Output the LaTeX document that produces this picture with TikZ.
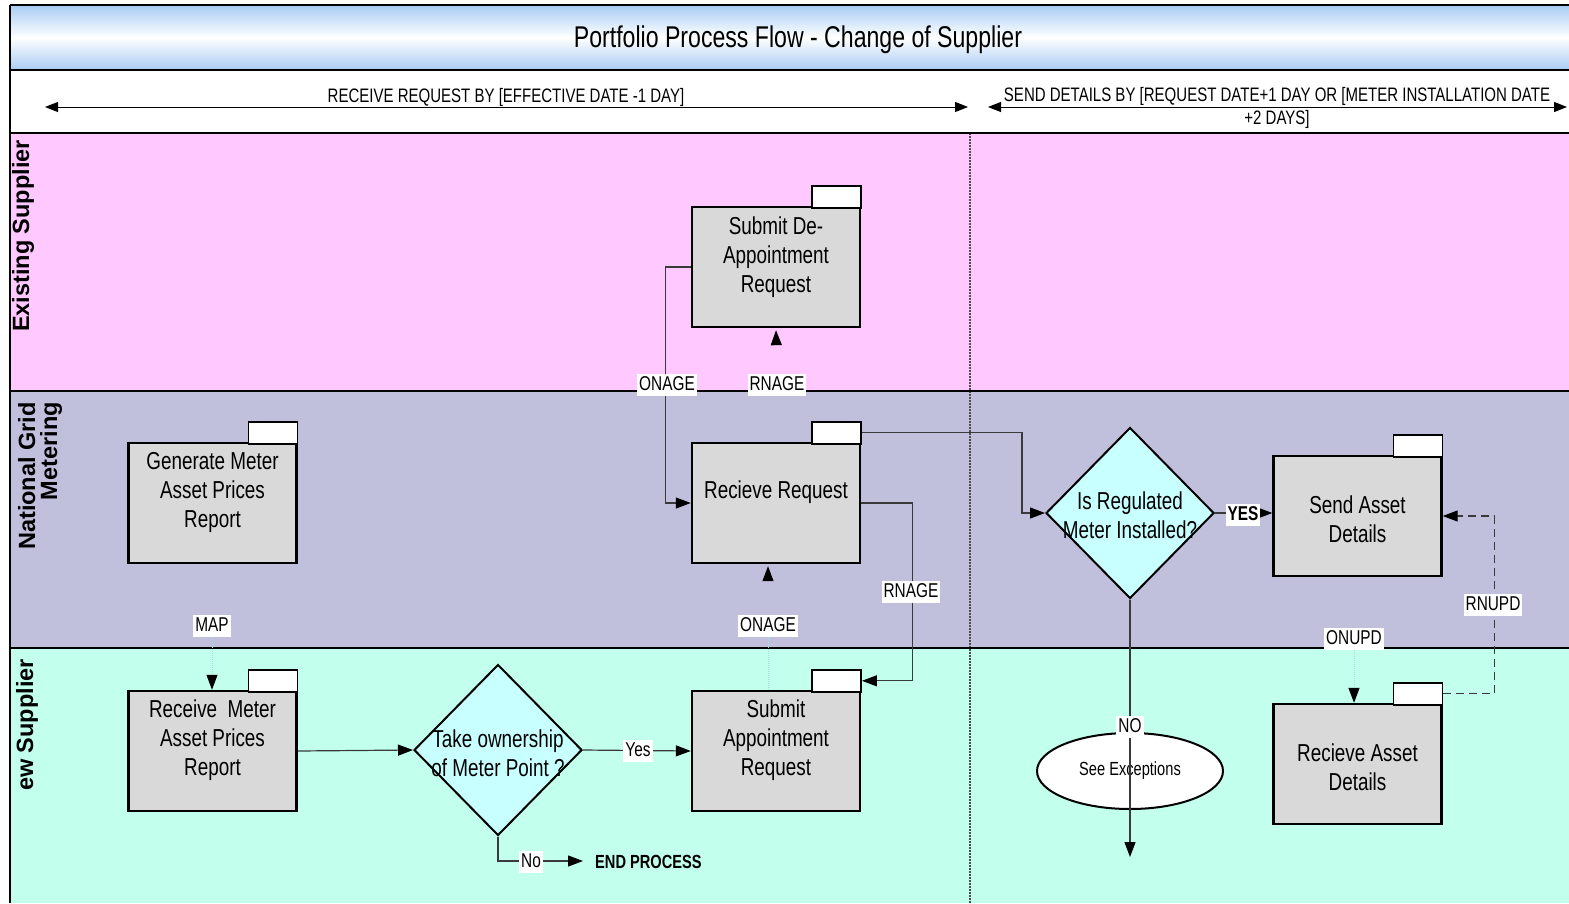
\documentclass[tikz,border=0pt]{standalone}
\usepackage{fontspec}
\setmainfont{Liberation Sans}
\newfontfamily\cond[FakeStretch=0.77]{Liberation Sans}
\usetikzlibrary{arrows.meta,shapes.geometric}
\pgfdeclarelayer{top}
\pgfsetlayers{main,top}
\definecolor{pinklane}{HTML}{FFC8FF}
\definecolor{greylane}{HTML}{C0C0DC}
\definecolor{aqualane}{HTML}{C2FFEC}
\definecolor{boxgrey}{HTML}{D9D9D9}
\definecolor{diacyan}{HTML}{C8FFFF}
\definecolor{titleblue}{HTML}{A8CCF4}
\definecolor{linegrey}{HTML}{3A3A3A}
\definecolor{faintline}{HTML}{9CE4DA}
\begin{document}
\begin{tikzpicture}[x=1pt,y=-1pt,
  procbox/.style={draw, fill=boxgrey, line width=2.4pt, minimum width=168pt, minimum height=120pt, inner sep=0pt},
  tabbox/.style={draw, fill=white, line width=1.5pt, minimum width=49pt, minimum height=22pt, inner sep=0pt},
  decision/.style={draw, diamond, fill=diacyan, line width=2pt, minimum width=168pt, minimum height=171pt, inner sep=0pt},
  boxtxt/.style={align=center, inner sep=0pt, font=\cond\fontsize{24.5}{29}\selectfont},
  lanelbl/.style={inner sep=0pt, font=\bfseries\fontsize{23.5}{22}\selectfont},
  lbl/.style={fill=white, inner sep=2pt, text height=14pt, text depth=4pt, font=\cond\fontsize{20}{22}\selectfont},
  hdrtxt/.style={inner sep=0pt, align=center, font=\cond\fontsize{19.5}{23}\selectfont},
  conn/.style={draw=linegrey, line width=1.2pt},
  arrowto/.style={-{Triangle[length=15pt,width=11pt,color=black]}},
  hdrarrow/.style={draw=black, line width=1pt, {Triangle[length=13pt,width=10pt]}-{Triangle[length=13pt,width=10pt]}},
  ghostpink/.style={draw=pinklane, line width=1pt},
  ghostgrey/.style={draw=greylane, line width=1pt},
  faintln/.style={draw=faintline, line width=1pt, dash pattern=on 1pt off 1pt}]
\useasboundingbox (0,0) rectangle (1569,903);
% backgrounds
\fill[white] (0,0) rectangle (1569,903);
\shade[top color=titleblue, bottom color=titleblue, middle color=white] (10,5) rectangle (1569,70);
\fill[white] (10,70) rectangle (1569,133);
\fill[pinklane] (10,133) rectangle (1569,391);
\fill[greylane] (10,391) rectangle (1569,648);
\fill[aqualane] (10,648) rectangle (1569,903);
\draw[black!70, line width=1.5pt, dash pattern=on 2pt off 1pt] (970,133) -- (970,903);
\draw[line width=1.5pt] (10,5) -- (1569,5);
\draw[line width=2.5pt] (10,70) -- (1569,70);
\draw[line width=2.5pt] (10,133) -- (1569,133);
\draw[line width=2pt] (10,391) -- (1569,391);
\draw[line width=2pt] (10,648) -- (1569,648);
\draw[line width=2pt] (10,5) -- (10,903);
% title and header
\node[inner sep=0pt, font=\cond\fontsize{30}{34}\selectfont] (title) at (798,40) {Portfolio Process Flow - Change of Supplier};
\node[hdrtxt] (hleft) at (506,97) {RECEIVE REQUEST BY [EFFECTIVE DATE -1 DAY]};
\node[hdrtxt] (hright) at (1277,108) {SEND DETAILS BY [REQUEST DATE+1 DAY OR [METER INSTALLATION DATE\\+2 DAYS]};
\coordinate (hla) at (45,107);
\coordinate (hlb) at (968,107);
\coordinate (hra) at (988,107);
\coordinate (hrb) at (1567,107);
\draw[hdrarrow] (hla) -- (hlb);
\draw[hdrarrow] (hra) -- (hrb);
% lane labels
\node[lanelbl, rotate=90] (lexist) at (23,236) {Existing Supplier};
\node[lanelbl, rotate=90, align=right] (lng) at (40,476) {National Grid\\Metering};
\node[lanelbl, rotate=90] (lnew) at (27,725) {ew Supplier};
% process boxes
\node[procbox] (sda) at (776,267) {};
\node[tabbox] (sdatab) at ([xshift=-24.5pt,yshift=9pt]sda.north east) {};
\node[boxtxt] (sdatxt) at (776,257) {Submit De-\\Appointment\\Request};
\node[procbox] (gen) at (212.5,503) {};
\node[tabbox] (gentab) at ([xshift=-24.5pt,yshift=9pt]gen.north east) {};
\node[boxtxt] (gentxt) at (212.5,492) {Generate Meter\\Asset Prices\\Report};
\node[procbox] (rr) at (776,503) {};
\node[tabbox] (rrtab) at ([xshift=-24.5pt,yshift=9pt]rr.north east) {};
\node[boxtxt] (rrtxt) at (776,492) {Recieve Request};
\node[procbox] (sad) at (1357.5,516) {};
\node[tabbox] (sadtab) at ([xshift=-24.5pt,yshift=9pt]sad.north east) {};
\node[boxtxt] (sadtxt) at (1357.5,519) {Send Asset\\Details};
\node[procbox] (rmr) at (212.5,751) {};
\node[tabbox] (rmrtab) at ([xshift=-24.5pt,yshift=9pt]rmr.north east) {};
\node[boxtxt] (rmrtxt) at (212.5,740) {Receive\ \ Meter\\Asset Prices\\Report};
\node[procbox] (sar) at (776,751) {};
\node[tabbox] (sartab) at ([xshift=-24.5pt,yshift=9pt]sar.north east) {};
\node[boxtxt] (sartxt) at (776,740) {Submit\\Appointment\\Request};
\node[procbox] (rad) at (1357.5,764) {};
\node[tabbox] (radtab) at ([xshift=-24.5pt,yshift=9pt]rad.north east) {};
\node[boxtxt] (radtxt) at (1357.5,767) {Recieve Asset\\Details};
% decisions
\node[decision] (isreg) at (1130,513) {};
\node[boxtxt] (isregtxt) at (1130,515) {Is Regulated\\Meter Installed?};
\node[decision] (take) at (498,750) {};
\node[boxtxt] (taketxt) at (498,753) {Take ownership\\of Meter Point ?};
\node[draw, ellipse, fill=white, line width=2pt, minimum width=186pt, minimum height=76pt, inner sep=0pt, font=\cond\fontsize{19}{22}\selectfont] (exc) at (1130,771) {See Exceptions};
\node[inner sep=0pt, anchor=west, font=\bfseries\cond\fontsize{19}{22}\selectfont] (endp) at (595,862) {END PROCESS};
% connector labels (on top)
\begin{pgfonlayer}{top}
\node[lbl] (lonage1) at (667,385) {ONAGE};
\node[lbl] (lrnage1) at (777,385) {RNAGE};
\node[lbl] (lmap) at (212,626) {MAP};
\node[lbl] (lonage2) at (768,626) {ONAGE};
\node[lbl] (lrnage2) at (911,592) {RNAGE};
\node[lbl] (lrnupd) at (1493,605) {RNUPD};
\node[lbl] (lonupd) at (1354,639) {ONUPD};
\node[lbl] (lno) at (1130,727) {NO};
\node[lbl] (lyes) at (638,751) {Yes};
\node[lbl] (lno2) at (531,862) {No};
\node[lbl, font=\bfseries\cond\fontsize{20}{22}\selectfont] (lyes2) at (1243,515) {YES};
\end{pgfonlayer}
% connectors
\draw[conn,arrowto] (sda.west) -- ++(-25,0) |- (rr.west);
\draw[ghostpink,arrowto,shorten >=2pt] (lrnage1) -- (sda.south);
\draw[conn,arrowto] (rrtab.east) -- ++(160,0) |- (isreg.west);
\draw[conn,arrowto] (rr.east) -- ++(51,0) |- (sartab.east);
\draw[conn,arrowto] (isreg.east) -- (isreg.east -| sad.west);
\coordinate (noend) at (1130,857);
\draw[conn,arrowto] (isreg.south) -- (noend);
\draw[conn,arrowto,dash pattern=on 8pt off 5pt] (radtab.east) -- ++(51,0) |- (sad.east);
\draw[ghostgrey] (sad.south -| lonupd) -- (lonupd);
\draw[faintln,arrowto] (lonupd) -- (rad.north -| lonupd);
\draw[ghostgrey] (gen.south -| lmap) -- (lmap);
\draw[faintln,arrowto] (lmap) -- (rmr.north -| lmap);
\draw[faintln] (sar.north -| lonage2) -- (lonage2);
\draw[ghostgrey,arrowto,shorten >=2pt] (lonage2) -- (rr.south -| lonage2);
\draw[conn,arrowto] (rmr.east) -- (take.west);
\draw[conn,arrowto] (take.east) -- (sar.west);
\coordinate (endc) at (583,861);
\draw[conn,arrowto] (take.south) |- (endc);
\end{tikzpicture}
\end{document}
